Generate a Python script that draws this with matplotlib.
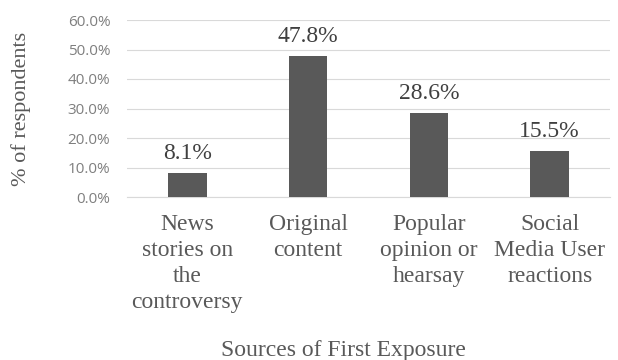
import matplotlib
matplotlib.use("Agg")
import matplotlib.pyplot as plt

categories = ["News\nstories on\nthe\ncontroversy", "Original\ncontent", "Popular\nopinion or\nhearsay", "Social\nMedia User\nreactions"]
values = [8.1, 47.8, 28.6, 15.5]
yticks = [0, 10, 20, 30, 40, 50, 60]

fig = plt.figure(figsize=(6.18, 3.6), dpi=100)
ax = fig.add_axes([127/618, 1-197/360, 483/618, 177/360])
x = range(len(categories))
ax.bar(x, values, width=0.32, color="#595959", zorder=3)
ax.set_xlim(-0.5, len(categories) - 0.5)
ax.set_ylim(0, 60)
ax.set_yticks(yticks)
ax.set_yticklabels([f"{v:.1f}%" for v in yticks], fontsize=11, color="#7f7f7f", family="Open Sans")
ax.grid(axis="y", color="#d9d9d9", linewidth=0.8, zorder=0)
for s in ["top", "right", "left"]:
    ax.spines[s].set_visible(False)
ax.spines["bottom"].set_color("#d9d9d9")
ax.tick_params(axis="y", length=0, pad=12)
ax.tick_params(axis="x", length=0, pad=12)
ax.set_xticks(list(x))
ax.set_xticklabels(categories, fontsize=17, color="#595959", family="Liberation Serif", linespacing=1.32)
for xi, v in zip(x, values):
    ax.annotate(f"{v:.1f}%", (xi, v), xytext=(0, 10), textcoords="offset points",
                ha="center", va="baseline", fontsize=17, color="#404040", family="Liberation Serif")
ax.set_ylabel("% of respondents", fontsize=16, color="#595959", family="Liberation Serif")
ax.yaxis.set_label_coords(-(127-31)/483, 0.5)
fig.text(343/618, 4/360, "Sources of First Exposure", ha="center", va="baseline", fontsize=17, color="#595959", family="Liberation Serif")
fig.savefig("out.png", dpi=100)
